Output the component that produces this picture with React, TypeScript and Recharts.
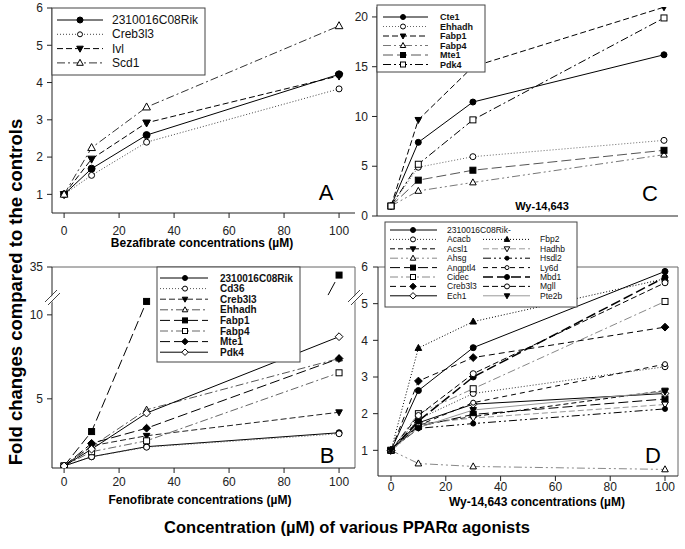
import React from "react";
import { LineChart, Line, XAxis, YAxis, ReferenceLine } from "recharts";

const FONT = '"Liberation Sans", Arial, Helvetica, sans-serif';

// shared dose levels (µM) and x ticks
const doses = [0, 10, 30, 100];
const xTicks = [0, 20, 40, 60, 80, 100];

// ---- Panel A: bezafibrate ----
const aRik = [1, 1.69, 2.59, 4.22];
const aCreb3l3 = [1, 1.51, 2.4, 3.83];
const aIvl = [1, 1.95, 2.92, 4.18];
const aScd1 = [1, 2.25, 3.34, 5.52];
const aYTicks = [1, 2, 3, 4, 5, 6];

// ---- Panel B: fenofibrate (broken y axis, 11 -> 30) ----
const bRik = [1, 1.55, 2.15, 2.98];
const bCd36 = [1, 1.55, 2.12, 2.92];
const bCreb3l3 = [1, 2.2, 2.8, 4.2];
const bEhhadh = [1, 2.15, 4.35, 7.4];
const bFabp1 = [1, 3.05, 10.8, 33.7];
const bFabp4 = [1, 1.85, 2.5, 6.55];
const bMte1 = [1, 2.35, 3.25, 7.4];
const bPdk4 = [1, 2.0, 4.15, 8.7];
const bYTicks = [5, 10, 35];

// ---- Panel C: Wy-14,643 (high responders) ----
const cCte1 = [1, 7.4, 11.45, 16.2];
const cEhhadh = [1, 4.9, 5.96, 7.6];
const cFabp1 = [1, 9.66, 15.0, 20.98];
const cFabp4 = [1, 2.52, 3.37, 6.16];
const cMte1 = [1, 3.6, 4.6, 6.6];
const cPdk4 = [1, 5.2, 9.66, 19.9];
const cYTicks = [0, 5, 10, 15, 20];

// ---- Panel D: Wy-14,643 ----
const dRik = [1, 2.63, 3.8, 5.88];
const dAcacb = [1, 1.85, 2.55, 3.28];
const dAcsl1 = [1, 1.7, 1.92, 2.63];
const dAhsg = [1, 0.64, 0.56, 0.48];
const dAngptl4 = [1, 1.65, 1.98, 2.4];
const dCidec = [1, 2.0, 2.68, 5.06];
const dCreb3l3 = [1, 2.89, 3.53, 4.36];
const dEch1 = [1, 1.75, 2.26, 2.55];
const dFbp2 = [1, 3.79, 4.51, 5.68];
const dHadhb = [1, 1.72, 1.88, 2.25];
const dHsdl2 = [1, 1.6, 1.73, 2.13];
const dLy6d = [1, 1.68, 2.3, 3.35];
const dMbd1 = [1, 1.8, 3.0, 5.72];
const dMgll = [1, 1.95, 3.09, 5.57];
const dPte2b = [1, 1.62, 2.1, 2.6];
const dYTicks = [1, 2, 3, 4, 5, 6];

type Shape =
  | "circle" | "circleOpen" | "square" | "squareOpen" | "diamond" | "diamondOpen"
  | "triUp" | "triUpOpen" | "triDown" | "triDownOpen" | "squareStub";

type Series = {
  key: string;
  name: string;
  values: (number | null)[];
  stroke: string;
  dash?: string;
  width?: number;
  shape: Shape;
  size?: number;
};

const SOLID = undefined;
const DOT = "1 2";
const DASH = "6 3";
const LONG = "10 4";
const DASHDOT = "8 3 2 3";
const DASHDOTDOT = "8 3 2 3 2 3";

const aSeries: Series[] = [
  { key: "rik", name: "2310016C08Rik", values: aRik, stroke: "#000", dash: SOLID, shape: "circle", size: 7 },
  { key: "creb", name: "Creb3l3", values: aCreb3l3, stroke: "#444", dash: DOT, shape: "circleOpen", size: 6 },
  { key: "ivl", name: "Ivl", values: aIvl, stroke: "#000", dash: DASH, shape: "triDown", size: 7 },
  { key: "scd1", name: "Scd1", values: aScd1, stroke: "#333", dash: DASHDOT, shape: "triUpOpen", size: 7 },
];

// lower/upper part of the broken axis
const bBreak = (v: number) => (v <= 11 ? v : 11 + (v - 30) * 0.37);
const bTop = bBreak(35);

const bSeries: Series[] = [
  { key: "rik", name: "2310016C08Rik", values: bRik, stroke: "#000", dash: SOLID, shape: "circle" },
  { key: "cd36", name: "Cd36", values: bCd36, stroke: "#555", dash: DOT, shape: "circleOpen" },
  { key: "creb", name: "Creb3l3", values: bCreb3l3, stroke: "#222", dash: DASH, shape: "triDown" },
  { key: "ehh", name: "Ehhadh", values: bEhhadh, stroke: "#555", dash: DASHDOT, shape: "triUpOpen" },
  { key: "fabp1", name: "Fabp1", values: bFabp1.map((v) => (v <= 11 ? v : null)), stroke: "#000", dash: LONG, shape: "square" },
  { key: "fabp1hi", name: "", values: bFabp1.map((v) => (v > 11 ? v : null)), stroke: "#000", dash: LONG, shape: "squareStub" },
  { key: "fabp4", name: "Fabp4", values: bFabp4, stroke: "#666", dash: DASHDOT, shape: "squareOpen" },
  { key: "mte1", name: "Mte1", values: bMte1, stroke: "#000", dash: LONG, shape: "diamond" },
  { key: "pdk4", name: "Pdk4", values: bPdk4, stroke: "#000", dash: SOLID, shape: "diamondOpen" },
];

const cSeries: Series[] = [
  { key: "cte1", name: "Cte1", values: cCte1, stroke: "#000", dash: SOLID, shape: "circle" },
  { key: "ehh", name: "Ehhadh", values: cEhhadh, stroke: "#666", dash: DOT, shape: "circleOpen" },
  { key: "fabp1", name: "Fabp1", values: cFabp1, stroke: "#000", dash: DASH, shape: "triDown" },
  { key: "fabp4", name: "Fabp4", values: cFabp4, stroke: "#777", dash: DASHDOTDOT, shape: "triUpOpen" },
  { key: "mte1", name: "Mte1", values: cMte1, stroke: "#555", dash: LONG, shape: "square" },
  { key: "pdk4", name: "Pdk4", values: cPdk4, stroke: "#000", dash: DASHDOT, shape: "squareOpen" },
];

const dSeries: Series[] = [
  { key: "rik", name: "2310016C08Rik-", values: dRik, stroke: "#000", dash: SOLID, shape: "circle" },
  { key: "acacb", name: "Acacb", values: dAcacb, stroke: "#333", dash: DOT, shape: "circleOpen" },
  { key: "acsl1", name: "Acsl1", values: dAcsl1, stroke: "#000", dash: "5 3", shape: "triDown" },
  { key: "ahsg", name: "Ahsg", values: dAhsg, stroke: "#888", dash: DASHDOTDOT, shape: "triUpOpen" },
  { key: "angptl4", name: "Angptl4", values: dAngptl4, stroke: "#000", dash: LONG, shape: "square" },
  { key: "cidec", name: "Cidec", values: dCidec, stroke: "#888", dash: DASHDOT, shape: "squareOpen" },
  { key: "creb", name: "Creb3l3", values: dCreb3l3, stroke: "#000", dash: "6 4", shape: "diamond" },
  { key: "ech1", name: "Ech1", values: dEch1, stroke: "#000", dash: SOLID, shape: "diamondOpen" },
  { key: "fbp2", name: "Fbp2", values: dFbp2, stroke: "#000", dash: DOT, shape: "triUp" },
  { key: "hadhb", name: "Hadhb", values: dHadhb, stroke: "#999", dash: DASH, shape: "triDownOpen" },
  { key: "hsdl2", name: "Hsdl2", values: dHsdl2, stroke: "#000", dash: DASHDOTDOT, shape: "circle", size: 5 },
  { key: "ly6d", name: "Ly6d", values: dLy6d, stroke: "#000", dash: "5 4", shape: "circleOpen", size: 5 },
  { key: "mbd1", name: "Mbd1", values: dMbd1, stroke: "#000", dash: LONG, width: 1.5, shape: "circle" },
  { key: "mgll", name: "Mgll", values: dMgll, stroke: "#000", dash: DASH, shape: "circleOpen" },
  { key: "pte2b", name: "Pte2b", values: dPte2b, stroke: "#999", dash: SOLID, shape: "triDown" },
];

function toRows(series: Series[], map: (v: number) => number = (v) => v) {
  return doses.map((x, i) => {
    const r: Record<string, number | null> = { x };
    series.forEach((s) => {
      const v = s.values[i];
      r[s.key] = v == null ? null : map(v);
    });
    return r;
  });
}

function Marker({ cx, cy, shape, size = 6 }: { cx: number; cy: number; shape: Shape; size?: number }) {
  const r = size / 2;
  const open = shape.endsWith("Open");
  const fill = open ? "#fff" : "#000";
  const common = { fill, stroke: "#000", strokeWidth: 1 };
  switch (shape) {
    case "circle":
    case "circleOpen":
      return <circle cx={cx} cy={cy} r={r} {...common} />;
    case "square":
    case "squareOpen":
      return <rect x={cx - r} y={cy - r} width={size} height={size} {...common} />;
    case "squareStub":
      return (
        <g>
          <line x1={cx - 11} y1={cy + 20} x2={cx - 4} y2={cy + 7} stroke="#000" strokeWidth={1} />
          <rect x={cx - r} y={cy - r} width={size} height={size} {...common} fill="#000" />
        </g>
      );
    case "diamond":
    case "diamondOpen": {
      const d = r * 1.3;
      return <polygon points={`${cx},${cy - d} ${cx + d},${cy} ${cx},${cy + d} ${cx - d},${cy}`} {...common} />;
    }
    case "triUp":
    case "triUpOpen":
      return <polygon points={`${cx},${cy - r * 1.2} ${cx + r * 1.1},${cy + r * 0.8} ${cx - r * 1.1},${cy + r * 0.8}`} {...common} />;
    default:
      return <polygon points={`${cx},${cy + r * 1.2} ${cx + r * 1.1},${cy - r * 0.8} ${cx - r * 1.1},${cy - r * 0.8}`} {...common} />;
  }
}

function renderLines(series: Series[]) {
  return series.map((s) => (
    <Line
      key={s.key}
      type="linear"
      dataKey={s.key}
      stroke={s.stroke}
      strokeWidth={s.width ?? 1}
      strokeDasharray={s.dash}
      connectNulls={false}
      isAnimationActive={false}
      activeDot={false}
      dot={(p: any) => (
        <g key={`${s.key}-${p.index}`}>
          {p.cx != null && p.cy != null && Number.isFinite(p.cy) ? (
            <Marker cx={p.cx} cy={p.cy} shape={s.shape} size={s.size} />
          ) : null}
        </g>
      )}
    />
  ));
}

const tickStyle = { fontSize: 12, fill: "#222", fontFamily: FONT };

type LegendCol = { lx1: number; lx2: number; mx: number; tx: number };
type LegendItem = { s: Series; col: number; row: number };

function LegendBox({
  x, y, w, h, y0, gap, cols, items, fontSize, fontWeight,
}: {
  x: number; y: number; w: number; h: number; y0: number; gap: number;
  cols: LegendCol[]; items: LegendItem[]; fontSize: number; fontWeight: number | string;
}) {
  return (
    <g>
      <rect x={x} y={y} width={w} height={h} fill="#fff" stroke="#444" strokeWidth={1} />
      {items.map(({ s, col, row }) => {
        const c = cols[col];
        const yy = y0 + row * gap;
        return (
          <g key={s.key + col + row}>
            <line x1={c.lx1} x2={c.lx2} y1={yy} y2={yy} stroke={s.stroke} strokeWidth={s.width ?? 1} strokeDasharray={s.dash} />
            <Marker cx={c.mx} cy={yy} shape={s.shape} size={(s.size ?? 6) - 1} />
            <text x={c.tx} y={yy} dominantBaseline="central" fontSize={fontSize} fontWeight={fontWeight} fontFamily={FONT} fill="#111">
              {s.name}
            </text>
          </g>
        );
      })}
    </g>
  );
}

function BreakMark({ x, y }: { x: number; y: number }) {
  return (
    <g>
      <polygon points={`${x - 6},${y + 4} ${x + 5},${y - 7} ${x + 8},${y - 4} ${x - 3},${y + 7}`} fill="#fff" />
      <line x1={x - 7} y1={y + 4} x2={x + 5} y2={y - 8} stroke="#444" strokeWidth={1} />
      <line x1={x - 4} y1={y + 7} x2={x + 8} y2={y - 5} stroke="#444" strokeWidth={1} />
    </g>
  );
}

export default function App() {
  const aData = toRows(aSeries);
  const bData = toRows(bSeries, bBreak);
  const cData = toRows(cSeries);
  const dData = toRows(dSeries);

  const box = (left: number, top: number): React.CSSProperties => ({ position: "absolute", left, top });

  return (
    <div style={{ position: "absolute", left: 0, top: 0, width: 685, height: 549, background: "#fff", fontFamily: FONT }}>
      {/* A */}
      <div style={box(0, 0)}>
        <LineChart width={360} height={250} data={aData} margin={{ top: 8, right: 5, bottom: 0, left: 0 }}>
          <XAxis type="number" dataKey="x" domain={[-4.4, 105.8]} ticks={xTicks} allowDataOverflow height={37}
            tickSize={5} tickMargin={8} stroke="#222" tick={tickStyle} />
          <YAxis type="number" domain={[0.5, 6]} ticks={aYTicks} allowDataOverflow width={52}
            tickSize={5} tickMargin={4} stroke="#222" tick={tickStyle} />
          {renderLines(aSeries)}
        </LineChart>
      </div>

      {/* B */}
      <div style={box(0, 259)}>
        <LineChart width={360} height={260} data={bData} margin={{ top: 8, right: 5, bottom: 0, left: 0 }}>
          <XAxis type="number" dataKey="x" domain={[-4.4, 105.8]} ticks={xTicks} allowDataOverflow height={51}
            tickSize={5} tickMargin={4} stroke="#222" tick={tickStyle} />
          <YAxis type="number" domain={[0.88, bTop]} ticks={bYTicks.map(bBreak)} allowDataOverflow width={52}
            tickSize={5} tickMargin={4} stroke="#222" tick={tickStyle}
            tickFormatter={(v: number) => (v > 12 ? "35" : String(v))} />
          <ReferenceLine y={bTop} stroke="#666" />
          <ReferenceLine x={105.8} stroke="#666" />
          {renderLines(bSeries)}
        </LineChart>
      </div>

      {/* C */}
      <div style={box(325, 0)}>
        <LineChart width={360} height={240} data={cData} margin={{ top: 7, right: 7, bottom: 0, left: 0 }}>
          <XAxis type="number" dataKey="x" domain={[-5.13, 105.13]} ticks={xTicks} allowDataOverflow height={24}
            tickSize={5} stroke="#222" tick={false} />
          <YAxis type="number" domain={[0, 21]} ticks={cYTicks} allowDataOverflow width={52}
            tickSize={5} tickMargin={4} stroke="#222" tick={tickStyle} />
          {renderLines(cSeries)}
        </LineChart>
      </div>

      {/* D */}
      <div style={box(325, 259)}>
        <LineChart width={360} height={260} data={dData} margin={{ top: 8, right: 7, bottom: 0, left: 0 }}>
          <XAxis type="number" dataKey="x" domain={[-4.74, 104.74]} ticks={xTicks} allowDataOverflow height={43}
            tickSize={5} tickMargin={1} stroke="#222" tick={tickStyle} />
          <YAxis type="number" domain={[0.3, 6]} ticks={dYTicks} allowDataOverflow width={53}
            tickSize={5} tickMargin={5} stroke="#222" tick={tickStyle} />
          <ReferenceLine y={6} stroke="#666" />
          <ReferenceLine x={104.74} stroke="#666" />
          {renderLines(dSeries)}
        </LineChart>
      </div>

      {/* annotations, legends, titles */}
      <svg width={685} height={549} style={{ position: "absolute", left: 0, top: 0, pointerEvents: "none" }}>
        <BreakMark x={52} y={298} />
        <BreakMark x={355} y={298} />

        <LegendBox x={52} y={8} w={153} h={67} y0={20} gap={14.3} fontSize={12} fontWeight="normal"
          cols={[{ lx1: 57, lx2: 103, mx: 80, tx: 112 }]}
          items={aSeries.map((s, i) => ({ s, col: 0, row: i }))} />

        <LegendBox x={157} y={267} w={143} h={95} y0={278} gap={10.6} fontSize={10} fontWeight="bold"
          cols={[{ lx1: 160, lx2: 208, mx: 185, tx: 220 }]}
          items={bSeries.filter((s) => s.name).map((s, i) => ({ s, col: 0, row: i }))} />

        <LegendBox x={377} y={5} w={108} h={67} y0={17} gap={9.5} fontSize={9} fontWeight="bold"
          cols={[{ lx1: 383, lx2: 428, mx: 403, tx: 440 }]}
          items={cSeries.map((s, i) => ({ s, col: 0, row: i }))} />

        <LegendBox x={385} y={222} w={192} h={85} y0={230} gap={9.4} fontSize={8.5} fontWeight="normal"
          cols={[{ lx1: 390, lx2: 437, mx: 413, tx: 447 }, { lx1: 483, lx2: 530, mx: 507, tx: 540 }]}
          items={dSeries.map((s, i) => (i < 8 ? { s, col: 0, row: i } : { s, col: 1, row: i - 7 }))} />

        <g fontFamily={FONT} fill="#000">
          <text x={326} y={192} fontSize={22} textAnchor="middle" dominantBaseline="central">A</text>
          <text x={327} y={455} fontSize={22} textAnchor="middle" dominantBaseline="central">B</text>
          <text x={650} y={193} fontSize={22} textAnchor="middle" dominantBaseline="central">C</text>
          <text x={653} y={455} fontSize={22} textAnchor="middle" dominantBaseline="central">D</text>
          <text x={542} y={206} fontSize={11} fontWeight="bold" textAnchor="middle" dominantBaseline="central">Wy-14,643</text>

          <text x={202} y={243} fontSize={12} fontWeight="bold" textAnchor="middle" dominantBaseline="central">Bezafibrate concentrations (µM)</text>
          <text x={200} y={500} fontSize={12} fontWeight="bold" textAnchor="middle" dominantBaseline="central">Fenofibrate concentrations (µM)</text>
          <text x={537} y={502} fontSize={12} fontWeight="bold" textAnchor="middle" dominantBaseline="central">Wy-14,643 concentrations (µM)</text>

          <text x={347} y={527} fontSize={16.5} fontWeight="bold" textAnchor="middle" dominantBaseline="central">
            Concentration (µM) of various PPARα agonists
          </text>
          <text x={15} y={292} fontSize={18.5} fontWeight="bold" textAnchor="middle" dominantBaseline="central"
            transform="rotate(-90 15 292)">
            Fold changes compared to the controls
          </text>
        </g>
      </svg>
    </div>
  );
}
